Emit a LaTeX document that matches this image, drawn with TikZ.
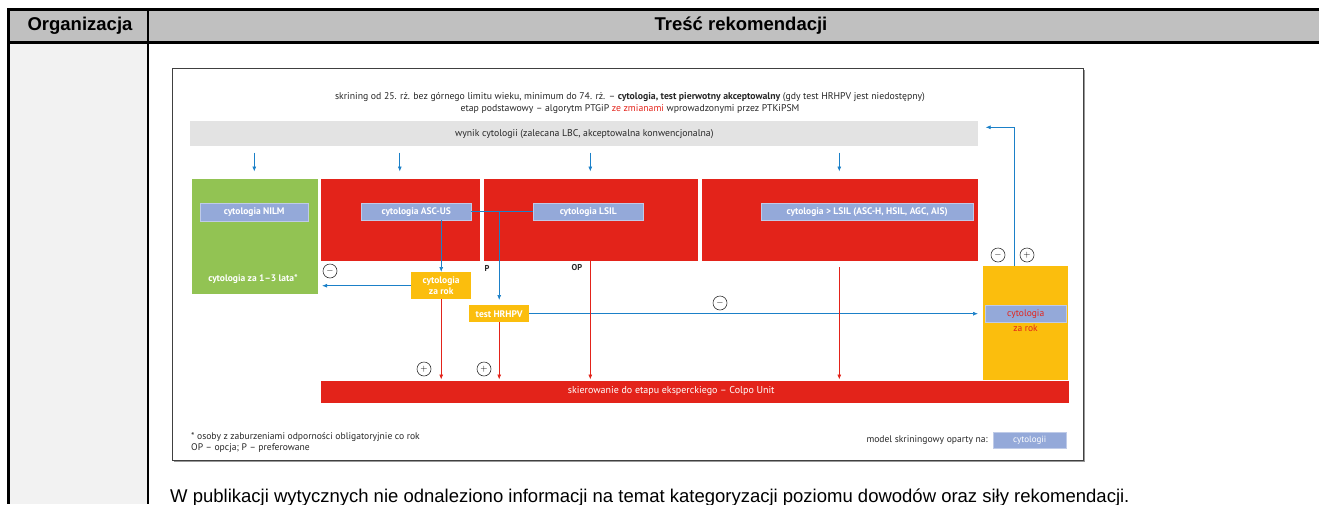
\documentclass[tikz,border=0pt]{standalone}
\usepackage{fontspec}
\setmainfont{Liberation Sans}
\newfontfamily\diagfont{PT Sans}
\usepackage{xcolor}
\usepackage{tikz}
\usetikzlibrary{positioning, arrows.meta}

\definecolor{headgray}{RGB}{192,192,192}
\definecolor{colgray}{RGB}{242,242,242}
\definecolor{bargray}{RGB}{227,227,227}
\definecolor{ptgred}{RGB}{227,35,26}
\definecolor{ptggreen}{RGB}{146,195,83}
\definecolor{ptgyellow}{RGB}{251,190,13}
\definecolor{ptglabel}{RGB}{148,169,217}
\definecolor{ptgblue}{RGB}{27,128,200}

\begin{document}
\begin{tikzpicture}[
    x=1pt, y=-1pt,
    % bloki tla
    area_box/.style={
        rectangle,
        anchor=north west,
        inner sep=0pt,
        draw=white,
        line width=0.6pt
    },
    red_box/.style={area_box, fill=ptgred},
    % etykiety z wynikiem cytologii
    label_box/.style={
        rectangle,
        anchor=north west,
        inner sep=0pt,
        fill=ptglabel,
        draw=ptglabel!60!white,
        line width=0.4pt,
        text=white,
        font=\diagfont\bfseries\fontsize{9.5}{11}\selectfont
    },
    year_box/.style={
        rectangle,
        anchor=north west,
        inner sep=0pt,
        fill=ptgyellow,
        text=white,
        align=center,
        font=\diagfont\bfseries\fontsize{9.5}{11.5}\selectfont
    },
    sign/.style={
        circle,
        draw=black!80,
        line width=0.6pt,
        minimum size=14pt,
        inner sep=0pt,
        font=\fontsize{9}{9}\selectfont
    },
    diag_text/.style={
        inner sep=0pt,
        text=black!85,
        font=\diagfont\fontsize{9.75}{12}\selectfont
    },
    % strzalki
    blue_arrow/.style={
        -{Latex[length=5pt, width=4pt]},
        draw=ptgblue,
        line width=0.7pt
    },
    red_arrow/.style={
        -{Latex[length=5pt, width=4pt]},
        draw=ptgred,
        line width=0.7pt
    }
]
\useasboundingbox (0,0) rectangle (1319,504);

% =====================================================================
% TABELA
% =====================================================================
\fill[headgray] (8,9) rectangle (1319,42);
\fill[colgray] (8,42) rectangle (148,504);
\draw[line width=3pt] (1319,9) -- (8,9) -- (8,504);
\draw[line width=3pt] (8,42) -- (1319,42);
\draw[line width=1.5pt] (148,9) -- (148,504);
\node[font=\bfseries\fontsize{18.5}{20}\selectfont] (org_head) at (80,26) {Organizacja};
\node[font=\bfseries\fontsize{18.5}{20}\selectfont] (tresc_head) at (741,26) {Treść rekomendacji};

% ramka schematu
\draw[black!40, line width=1.5pt] (174,461) -- (1084,461) -- (1084,70);
\draw[black!75, line width=0.8pt] (172,68) rectangle (1083,460);

% =====================================================================
% TYTUL I WYNIK CYTOLOGII
% =====================================================================
\node[diag_text, align=center] (title) at (630,103) {skrining od 25. rż. bez górnego limitu wieku, minimum do 74. rż. – {\bfseries cytologia, test pierwotny akceptowalny} (gdy test HRHPV jest niedostępny)\\
etap podstawowy – algorytm PTGiP {\color{ptgred}ze zmianami} wprowadzonymi przez PTKiPSM};

\node[area_box, fill=bargray, draw=none, minimum width=788pt, minimum height=25pt, font=\diagfont\fontsize{9.75}{11}\selectfont, text=black!85] (wynik) at (190,121) {wynik cytologii (zalecana LBC, akceptowalna konwencjonalna)};

% =====================================================================
% BLOKI WYNIKOW
% =====================================================================
\node[area_box, fill=ptggreen, minimum width=127pt, minimum height=116pt] (nilm_box) at (190.5,177.5) {};
\node[red_box, minimum width=160pt, minimum height=83pt] (asc_box) at (319.5,177.5) {};
\node[red_box, minimum width=215pt, minimum height=83pt] (lsil_box) at (482.5,177.5) {};
\node[red_box, minimum width=277pt, minimum height=83pt] (hsil_box) at (700.5,177.5) {};

\node[label_box, minimum width=108pt, minimum height=18pt] (nilm_lab) at (200,203) {cytologia NILM};
\node[label_box, minimum width=110pt, minimum height=17pt] (asc_lab) at (361,203) {cytologia ASC-US};
\node[label_box, minimum width=110pt, minimum height=17pt] (lsil_lab) at (533,203) {cytologia LSIL};
\node[label_box, minimum width=212pt, minimum height=17pt] (hsil_lab) at (761,203) {cytologia > LSIL (ASC-H, HSIL, AGC, AIS)};
\node[text=white, font=\diagfont\bfseries\fontsize{9.5}{11}\selectfont, inner sep=0pt] (nilm_next) at (253,279) {cytologia za 1–3 lata*};

\foreach \blk in {nilm_box, asc_box, lsil_box, hsil_box}
    \draw[blue_arrow, shorten <=6pt, shorten >=6pt] (wynik.south -| \blk.north) -- (\blk.north);

% =====================================================================
% DALSZE POSTEPOWANIE
% =====================================================================
\node[year_box, minimum width=60pt, minimum height=27pt] (rok_box) at (411,272) {cytologia\\za rok};
\node[year_box, minimum width=60pt, minimum height=17pt] (hpv_box) at (469,305) {test HRHPV};
\node[year_box, minimum width=85pt, minimum height=122pt] (right_box) at (983,266) {};
\node[label_box, minimum width=81pt, minimum height=17pt, text=ptgred, font=\diagfont\fontsize{9.5}{11}\selectfont] (right_lab) at (985,305) {cytologia};
\node[text=ptgred, font=\diagfont\fontsize{9.5}{11}\selectfont, inner sep=0pt] (right_next) at (1025.5,328) {za rok};

\node[red_box, minimum width=749pt, minimum height=23pt] (ref_bar) at (319.5,379.5) {};
\node[text=white, font=\diagfont\fontsize{10}{11}\selectfont, inner sep=0pt] (ref_text) at ([xshift=-23pt]ref_bar.center) {skierowanie do etapu eksperckiego – Colpo Unit};

\node[diag_text, font=\diagfont\bfseries\fontsize{8.5}{9}\selectfont] (p_mark) at (487,268) {P};
\node[diag_text, font=\diagfont\bfseries\fontsize{8.5}{9}\selectfont] (op_mark) at (577,268) {OP};

\node[sign] (s_minus1) at (330,271) {$-$};
\node[sign] (s_minus2) at (720,303) {$-$};
\node[sign] (s_minus3) at (998,255) {$-$};
\node[sign] (s_plus1) at (424,369) {$+$};
\node[sign] (s_plus2) at (484,369) {$+$};
\node[sign] (s_plus3) at (1027,255) {$+$};

% polaczenia niebieskie
\draw[blue_arrow] (rok_box.north |- asc_lab.south) -- (rok_box.north);
\draw[blue_arrow, shorten >=4pt] (rok_box.west) -- (rok_box.west -| nilm_box.east);
\draw[ptgblue, line width=0.7pt] (asc_lab.east) -- (lsil_lab.west);
\draw[blue_arrow, shorten >=5pt] (hpv_box.north |- asc_lab.east) -- (hpv_box.north);
\draw[blue_arrow, shorten >=5pt] (hpv_box.east) -- (hpv_box.east -| right_box.west);
\draw[blue_arrow, shorten >=7pt] ([xshift=-11.5pt]right_box.north) |- ([yshift=6.5pt]wynik.east);

% polaczenia czerwone
\draw[red_arrow] (rok_box.south) -- (rok_box.south |- ref_bar.north);
\draw[red_arrow] (hpv_box.south) -- (hpv_box.south |- ref_bar.north);
\draw[red_arrow] (lsil_box.south) -- (lsil_box.south |- ref_bar.north);
\draw[red_arrow, shorten <=6pt] (hsil_box.south) -- (hsil_box.south |- ref_bar.north);

% =====================================================================
% OBJASNIENIA
% =====================================================================
\node[diag_text, anchor=west, align=left, font=\diagfont\fontsize{9.6}{11}\selectfont] (footnote) at (191,443) {* osoby z zaburzeniami odporności obligatoryjnie co rok\\OP – opcja; P – preferowane};
\node[label_box, minimum width=73pt, minimum height=16pt, font=\diagfont\fontsize{9}{10}\selectfont] (model_lab) at (993,432) {cytologii};
\node[diag_text, anchor=east, font=\diagfont\fontsize{9.6}{11}\selectfont] (model_text) at ([xshift=-5pt]model_lab.west) {model skriningowy oparty na:};

\node[anchor=base west, inner sep=0pt, font=\fontsize{18.5}{20}\selectfont] (note) at (170,502) {W publikacji wytycznych nie odnaleziono informacji na temat kategoryzacji poziomu dowodów oraz siły rekomendacji.};

\end{tikzpicture}
\end{document}
